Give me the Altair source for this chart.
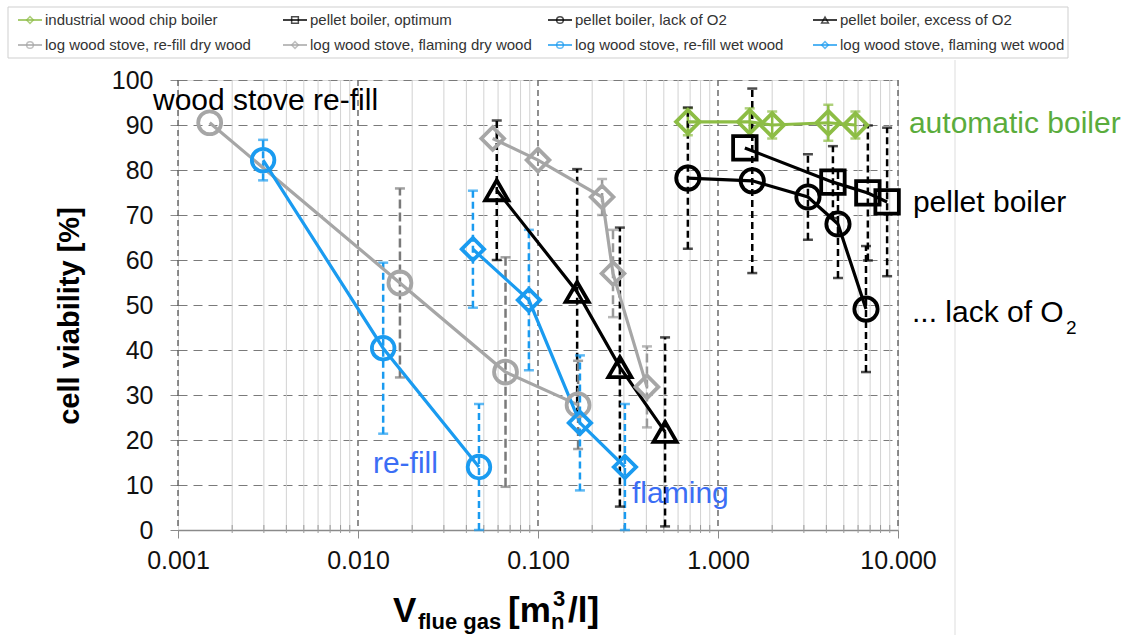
import altair as alt
import pandas as pd
import numpy as np

# ---------------- data ----------------
names = [
    "industrial wood chip boiler",
    "pellet boiler, optimum",
    "pellet boiler, lack of O2",
    "pellet boiler, excess of O2",
    "log wood stove, re-fill dry wood",
    "log wood stove, flaming dry wood",
    "log wood stove, re-fill wet wood",
    "log wood stove, flaming wet wood",
]

industrial_x = [0.68, 1.50, 2.0, 4.1, 5.8]
industrial_y = [90.7, 90.7, 90.0, 90.5, 90.0]
industrial_err = [3, 3, 3, 4, 3]

optimum_x = [1.41, 4.35, 6.8, 8.7]
optimum_y = [84.9, 77.3, 74.9, 72.9]
optimum_err = [0, 8, 15, 16.5]

lack_x = [0.68, 1.55, 3.16, 4.64, 6.64]
lack_y = [78.2, 77.6, 74.0, 68.0, 49.1]
lack_err = [15.7, 20.5, 9.5, 12, 14]

excess_x = [0.059, 0.165, 0.285, 0.508]
excess_y = [75.5, 52.9, 36.2, 21.8]
excess_err = [15.5, 27.3, 31, 21]

refill_dry_x = [0.0015, 0.0171, 0.066, 0.167]
refill_dry_y = [90.5, 54.9, 35.1, 27.8]
refill_dry_err = [0, 21, 25.5, 9.8]

flaming_dry_x = [0.056, 0.100, 0.227, 0.261, 0.403]
flaming_dry_y = [87.0, 82.2, 74.0, 57.0, 31.8]
flaming_dry_err = [0, 0, 4, 9.7, 9]

refill_wet_x = [0.00297, 0.0138, 0.047]
refill_wet_y = [82.2, 40.4, 14.0]
refill_wet_err = [4.5, 19, 14]

flaming_wet_x = [0.0435, 0.089, 0.171, 0.304]
flaming_wet_y = [62.4, 51.1, 23.8, 14.0]
flaming_wet_err = [13, 15.6, 15, 14]

series_x = [industrial_x, optimum_x, lack_x, excess_x, refill_dry_x, flaming_dry_x, refill_wet_x, flaming_wet_x]
series_y = [industrial_y, optimum_y, lack_y, excess_y, refill_dry_y, flaming_dry_y, refill_wet_y, flaming_wet_y]
series_err = [industrial_err, optimum_err, lack_err, excess_err, refill_dry_err, flaming_dry_err, refill_wet_err, flaming_wet_err]

x_ticks = [0.001, 0.01, 0.1, 1, 10]
y_ticks = list(range(0, 101, 10))

# ---------------- styles ----------------
GREEN = "#8dbd45"
GRAY = "#a6a6a6"
BLUE = "#1a9bf0"
colors = [GREEN, "#000000", "#000000", "#000000", GRAY, GRAY, BLUE, BLUE]
err_colors = [GREEN, "#000000", "#000000", "#000000", "#7a7a7a", "#9a9a9a", BLUE, BLUE]
shapes = ["diamond", "square", "circle", "triangle-up", "circle", "diamond", "circle", "diamond"]
sizes = [560, 500, 680, 850, 680, 720, 680, 720]
dashes = [[1, 0], [7, 4], [7, 4], [7, 4], [9, 4], [9, 4], [7, 4], [7, 4]]
FONT = "Liberation Sans"

rows = []
for i, n in enumerate(names):
    for xv, yv, ev in zip(series_x[i], series_y[i], series_err[i]):
        rows.append({"series": n, "x": xv, "y": yv, "err": ev, "ecolor": err_colors[i]})
df = pd.DataFrame(rows)

xscale = alt.Scale(type="log", domain=[0.001, 10])
yscale = alt.Scale(domain=[0, 100])
cscale = alt.Scale(domain=names, range=colors)
sscale = alt.Scale(domain=names, range=shapes)
zscale = alt.Scale(domain=names, range=sizes)
dscale = alt.Scale(domain=names, range=dashes)

W, H = 720, 450
L, T = 178, 80

# ---------------- grid ----------------
minor = [m * 10.0 ** e for e in range(-3, 1) for m in range(2, 10)]
grid_df = pd.DataFrame({"gx": minor})
major_df = pd.DataFrame({"gx": x_ticks})

minor_grid = alt.Chart(grid_df).mark_rule(color="#d2d2d2", strokeWidth=1).encode(
    x=alt.X("gx:Q", scale=xscale), y=alt.value(0), y2=alt.value(H))
minor_ticks = alt.Chart(grid_df).mark_rule(color="#999999", strokeWidth=1).encode(
    x=alt.X("gx:Q", scale=xscale), y=alt.value(H - 5), y2=alt.value(H + 3))
major_grid = alt.Chart(major_df).mark_rule(color="#555555", strokeWidth=1.3, strokeDash=[6, 4]).encode(
    x=alt.X("gx:Q", scale=xscale), y=alt.value(0), y2=alt.value(H))

base = alt.Chart(df)

axes = base.mark_point(opacity=0).encode(
    x=alt.X("x:Q", scale=xscale, title=None,
            axis=alt.Axis(values=x_ticks, format=".3f", grid=False, domain=True, domainColor="#8a8a8a",
                          domainWidth=1.3, tickSize=8, tickColor="#8a8a8a", labelFontSize=25,
                          labelPadding=10, labelColor="#111", labelFont=FONT, labelFlush=False)),
    y=alt.Y("y:Q", scale=yscale, title=None,
            axis=alt.Axis(values=y_ticks, grid=True, gridDash=[9, 6], gridColor="#7a7a7a", gridWidth=1.2,
                          domain=False, tickSize=8, tickColor="#8a8a8a", labelFontSize=25,
                          labelPadding=17, labelColor="#111", labelFont=FONT)),
)

# ---------------- error bars ----------------
eb = base.transform_filter("datum.err > 0").transform_calculate(
    lo="max(0, datum.y - datum.err)", hi="datum.y + datum.err")
err_rules = eb.mark_rule(strokeWidth=2.5).encode(
    x=alt.X("x:Q", scale=xscale), y=alt.Y("lo:Q", scale=yscale), y2="hi:Q",
    color=alt.Color("ecolor:N", scale=None),
    strokeDash=alt.StrokeDash("series:N", scale=dscale, legend=None))
err_caps = eb.transform_fold(["lo", "hi"], as_=["end", "yv"]).mark_tick(
    orient="horizontal", size=10, thickness=2.5).encode(
    x=alt.X("x:Q", scale=xscale), y=alt.Y("yv:Q", scale=yscale),
    color=alt.Color("ecolor:N", scale=None))

lines = base.mark_line(strokeWidth=3.2).encode(
    x=alt.X("x:Q", scale=xscale), y=alt.Y("y:Q", scale=yscale),
    color=alt.Color("series:N", scale=cscale, legend=None), detail="series:N")
points = base.mark_point(filled=False, strokeWidth=3.8, opacity=1).encode(
    x=alt.X("x:Q", scale=xscale), y=alt.Y("y:Q", scale=yscale),
    color=alt.Color("series:N", scale=cscale, legend=None),
    shape=alt.Shape("series:N", scale=sscale, legend=None),
    size=alt.Size("series:N", scale=zscale, legend=None))

# ---------------- annotations ----------------
anno_text = ["wood stove re-fill", "automatic boiler", "pellet boiler", "... lack of O", "re-fill", "flaming"]
anno_x = [0.000726, 11.5, 12.1, 11.96, 0.0121, 0.333]
anno_y = [93.3, 88.2, 70.7, 46.2, 12.7, 6.0]
anno_c = ["#000000", "#5aac3c", "#000000", "#000000", "#3b6ef5", "#3b6ef5"]
anno_df = pd.DataFrame({"t": anno_text, "ax": anno_x, "ay": anno_y, "c": anno_c})
annos = alt.Chart(anno_df).mark_text(align="left", baseline="alphabetic", fontSize=30, font=FONT).encode(
    x=alt.X("ax:Q", scale=xscale), y=alt.Y("ay:Q", scale=yscale), text="t:N",
    color=alt.Color("c:N", scale=None))
sub2 = alt.Chart(pd.DataFrame({"t": ["2"]})).mark_text(
    align="left", baseline="alphabetic", fontSize=19, font=FONT, color="#000").encode(
    x=alt.value(1066 - L), y=alt.value(334 - T), text="t:N")

# ---------------- axis titles ----------------
ytitle = alt.Chart(pd.DataFrame({"t": ["cell viability [%]"]})).mark_text(
    angle=270, align="center", baseline="middle", fontSize=29, fontWeight="bold", font=FONT, color="#000").encode(
    x=alt.value(70 - L), y=alt.value(316 - T), text="t:N")

xt_text = ["V", "flue gas", "[m", "n", "3", "/l]"]
xt_px = [393, 418, 508, 551, 553, 568]
xt_py = [622, 629, 622, 629, 606, 622]
xt_fs = [35, 22, 35, 22, 22, 35]
xt_df = pd.DataFrame({"t": xt_text, "px": [p - L for p in xt_px], "py": [p - T for p in xt_py], "fs": xt_fs})
xtitle = alt.Chart(xt_df).mark_text(align="left", baseline="alphabetic", fontWeight="bold", font=FONT, color="#000").encode(
    x=alt.X("px:Q", scale=None), y=alt.Y("py:Q", scale=None), text="t:N",
    size=alt.Size("fs:Q", scale=None))

# ---------------- legend (manual) ----------------
leg = pd.DataFrame({"series": names})
idx = np.arange(len(names))
leg["lx"] = 18 + (idx % 4) * 265 - L
leg["lx2"] = leg["lx"] + 24
leg["mx"] = leg["lx"] + 12
leg["tx"] = leg["lx"] + 27
leg["ly"] = np.where(idx < 4, 20, 45) - T
legbox = alt.Chart(pd.DataFrame({"a": [0]})).mark_rect(fill="white", stroke="#cfcfcf", strokeWidth=1).encode(
    x=alt.value(8 - L), x2=alt.value(1068 - L), y=alt.value(7 - T), y2=alt.value(58 - T))
legl = alt.Chart(leg).mark_rule(strokeWidth=1.5).encode(
    x=alt.X("lx:Q", scale=None), x2="lx2:Q", y=alt.Y("ly:Q", scale=None),
    color=alt.Color("series:N", scale=cscale, legend=None))
legp = alt.Chart(leg).mark_point(filled=False, strokeWidth=1.5, size=45).encode(
    x=alt.X("mx:Q", scale=None), y=alt.Y("ly:Q", scale=None),
    color=alt.Color("series:N", scale=cscale, legend=None),
    shape=alt.Shape("series:N", scale=sscale, legend=None))
legt = alt.Chart(leg).mark_text(align="left", baseline="middle", fontSize=15, font=FONT, color="#333").encode(
    x=alt.X("tx:Q", scale=None), y=alt.Y("ly:Q", scale=None), text="series:N")

frame_line = alt.Chart(pd.DataFrame({"a": [0]})).mark_rule(color="#dddddd", strokeWidth=1).encode(
    x=alt.value(955 - L), y=alt.value(60 - T), y2=alt.value(635 - T))

chart = alt.layer(
    minor_grid, major_grid, minor_ticks, axes, frame_line,
    err_rules, err_caps, lines, points, annos, sub2, ytitle, xtitle,
    legbox, legl, legp, legt,
).resolve_scale(color="independent", shape="independent", size="independent").properties(
    width=W, height=H,
    autosize=alt.AutoSizeParams(type="none"),
    padding={"left": L, "top": T, "right": 1137 - L - W, "bottom": 635 - T - H},
).configure_view(stroke=None).configure(font=FONT)

chart.save("out.html", embed_options={"renderer": "svg", "actions": False})
